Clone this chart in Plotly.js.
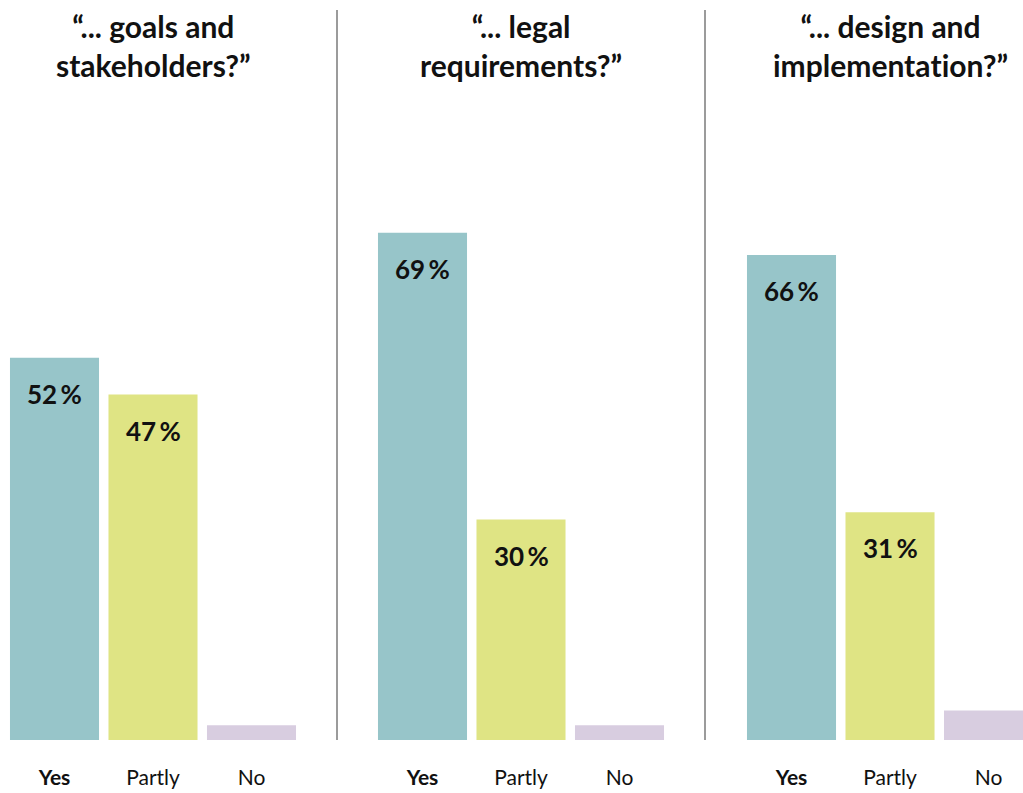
<!DOCTYPE html>
<html>
<head>
<meta charset="utf-8">
<script src="https://cdn.plot.ly/plotly-3.0.1.min.js"></script>
<style>html,body{margin:0;padding:0;background:#fff;}#chart{width:1023px;height:793px;}</style>
</head>
<body>
<div id="chart"></div>
<script>
const panelTitles = ["“... goals and<br>stakeholders?”", "“... legal<br>requirements?”", "“... design and<br>implementa<span style=\"font-variant-ligatures:none\">t</span>ion?”"];
const categories = ["Yes", "Partly", "No"];
const tickLabels = ["<b>Yes</b>", "Partly", "No"];
const yesValues = [52, 69, 66];
const partlyValues = [47, 30, 31];
const noValues = [2, 2, 4];
const colors = ["#97c5c9", "#dfe484", "#d8cde0"];

const W = 1023, H = 793;
const FONT = "Lato, 'Noto Sans', sans-serif";
const domains = [[5.25 / W, 300.75 / W], [373.25 / W, 668.75 / W], [742.25 / W, 1]];
const ranges = [[-0.5, 2.5], [-0.5, 2.5], [-0.5, 2.35]];
const axisIds = ["x", "x2", "x3"];

const traces = [];
const annotations = [];
const layout = {
  width: W, height: H,
  margin: {l: 0, r: 0, t: 0, b: 0},
  paper_bgcolor: "#fff", plot_bgcolor: "rgba(0,0,0,0)",
  showlegend: false,
  bargap: 0.096,
  font: {family: FONT, color: "#111"},
  yaxis: {domain: [53 / H, 788 / H], range: [0, 100], visible: false, fixedrange: true},
  shapes: [],
  annotations: annotations
};

for (let i = 0; i < 3; i++) {
  const vals = [yesValues[i], partlyValues[i], noValues[i]];
  traces.push({
    type: "bar", x: categories, y: vals,
    xaxis: axisIds[i], yaxis: "y",
    marker: {color: colors, line: {width: 0}},
    hoverinfo: "skip"
  });
  const axName = i === 0 ? "xaxis" : "xaxis" + (i + 1);
  layout[axName] = {
    domain: domains[i], range: ranges[i], anchor: "y",
    type: "category",
    tickvals: categories, ticktext: tickLabels,
    ticks: "outside", ticklen: 19, tickcolor: "rgba(0,0,0,0)",
    showline: false, zeroline: false, showgrid: false,
    tickfont: {family: FONT, size: 21, color: "#111"},
    fixedrange: true
  };
  annotations.push({
    xref: axisIds[i], yref: "paper", x: "Partly", y: 1 - 6 / H,
    yanchor: "top", xanchor: "center", showarrow: false, align: "center",
    text: "<b>" + panelTitles[i] + "</b>",
    font: {family: FONT, size: 30, color: "#111"}
  });
  vals.forEach((v, j) => {
    if (v >= 10) {
      annotations.push({
        xref: axisIds[i], yref: "y", x: categories[j], y: v,
        yshift: -36, yanchor: "middle", xanchor: "center", showarrow: false,
        text: "<b>" + v + "\u2009%</b>",
        font: {family: FONT, size: 26, color: "#111"}
      });
    }
  });
}

[337, 705].forEach(px => {
  layout.shapes.push({
    type: "line", xref: "paper", yref: "paper",
    x0: px / W, x1: px / W, y0: 53 / H, y1: 783 / H,
    line: {color: "#7a7a7a", width: 1.5}
  });
});

Plotly.newPlot("chart", traces, layout, {displayModeBar: false, staticPlot: true});
</script>
</body>
</html>
